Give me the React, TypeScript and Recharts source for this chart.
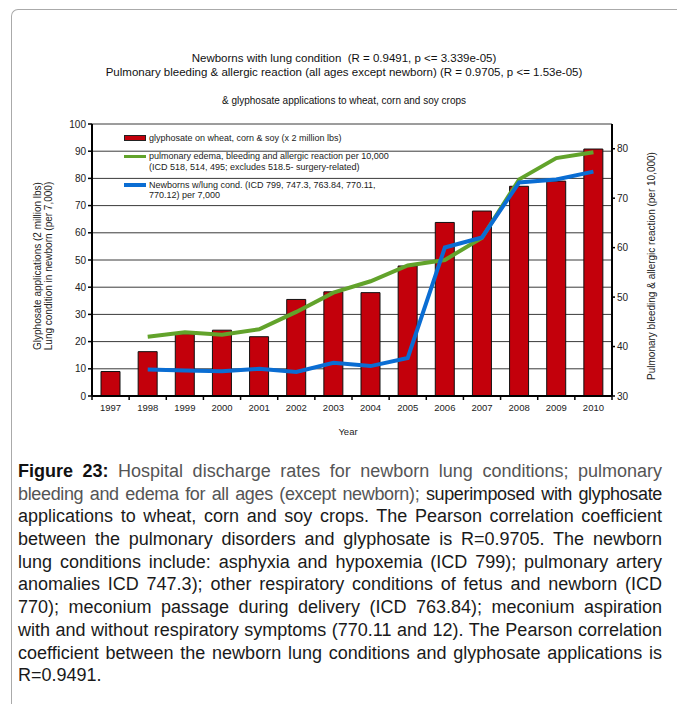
import {
  ComposedChart,
  Bar,
  Line,
  XAxis,
  YAxis,
  CartesianGrid,
  Legend,
} from "recharts";

const years = ["1997", "1998", "1999", "2000", "2001", "2002", "2003", "2004", "2005", "2006", "2007", "2008", "2009", "2010"];
const glyphosate = [9, 16.3, 22.9, 24.2, 21.8, 35.5, 38.3, 38, 47.8, 63.8, 68, 77.1, 79, 90.8];
const pulmonary = [null, 42.0, 42.9, 42.4, 43.5, 47.0, 50.9, 53.2, 56.4, 57.5, 62.0, 73.8, 78.1, 79.3];
const newborn = [null, 9.7, 9.4, 9.1, 10.0, 8.8, 12.2, 11, 14.0, 54.6, 58.3, 78.5, 79.6, 82.5];

const leftTicks = [0, 10, 20, 30, 40, 50, 60, 70, 80, 90, 100];
const rightTicks = [30, 40, 50, 60, 70, 80];

const data = years.map((year, i) => ({
  year,
  glyphosate: glyphosate[i],
  pulmonary: pulmonary[i],
  newborn: newborn[i],
}));

const FONT = '"Liberation Sans", Arial, sans-serif';
const RED = "#c3000b";
const GREEN = "#62a32b";
const BLUE = "#0a6dd3";

function YearTick(props: any) {
  const { x, y, payload, index } = props;
  const half = payload && payload.offset ? payload.offset : 18.57;
  return (
    <g>
      <line x1={x - half} y1={y} x2={x - half} y2={y + 4} stroke="#000" strokeWidth={1.5} />
      {index === years.length - 1 && (
        <line x1={x + half} y1={y} x2={x + half} y2={y + 4} stroke="#000" strokeWidth={1.5} />
      )}
      <text x={x} y={y + 15} textAnchor="middle" fontSize={9.5} fill="#222" fontFamily={FONT}>
        {payload.value}
      </text>
    </g>
  );
}

function LegendBox() {
  const row = { display: "flex", alignItems: "flex-start" } as const;
  const swatch = { width: 22, height: 10.5, marginRight: 3, display: "flex", alignItems: "center" } as const;
  const txt = { lineHeight: "10.5px" };
  return (
    <div style={{ fontFamily: FONT, fontSize: 9, color: "#222", width: 300 }}>
      <div style={row}>
        <div style={swatch}>
          <div style={{ width: 20, height: 4, background: RED, border: "1px solid #222" }} />
        </div>
        <div style={txt}>glyphosate on wheat, corn &amp; soy (x 2 million lbs)</div>
      </div>
      <div style={{ ...row, marginTop: 8.2 }}>
        <div style={swatch}>
          <div style={{ width: 22, height: 3.5, background: GREEN }} />
        </div>
        <div style={txt}>
          pulmonary edema, bleeding and allergic reaction per 10,000
          <br />
          (ICD 518, 514, 495; excludes 518.5- surgery-related)
        </div>
      </div>
      <div style={{ ...row, marginTop: 7.5 }}>
        <div style={swatch}>
          <div style={{ width: 22, height: 3.5, background: BLUE }} />
        </div>
        <div style={txt}>
          Newborns w/lung cond. (ICD 799, 747.3, 763.84, 770.11,
          <br />
          770.12) per 7,000
        </div>
      </div>
    </div>
  );
}

function VText({ cx, cy, text }: { cx: number; cy: number; text: string }) {
  return (
    <div
      style={{
        position: "absolute",
        left: cx - 150,
        top: cy - 6,
        width: 300,
        height: 12,
        lineHeight: "12px",
        textAlign: "center",
        fontSize: 10,
        fontFamily: FONT,
        color: "#222",
        transform: "rotate(-90deg)",
        whiteSpace: "nowrap",
      }}
    >
      {text}
    </div>
  );
}

const captionLines: [string, string, string][] = [
  ["Figure 23:", " Hospital discharge rates for newborn lung conditions; pulmonary", ""],
  ["", "bleeding and edema for all ages (except newborn); ", "superimposed with glyphosate"],
  ["", "", "applications to wheat, corn and soy crops. The Pearson correlation coefficient"],
  ["", "", "between the pulmonary disorders and glyphosate is R=0.9705. The newborn"],
  ["", "", "lung conditions include: asphyxia and hypoxemia (ICD 799); pulmonary artery"],
  ["", "", "anomalies ICD 747.3); other respiratory conditions of fetus and newborn (ICD"],
  ["", "", "770); meconium passage during delivery (ICD 763.84); meconium aspiration"],
  ["", "", "with and without respiratory symptoms (770.11 and 12). The Pearson correlation"],
  ["", "", "coefficient between the newborn lung conditions and glyphosate applications is"],
];

export default function App() {
  return (
    <div style={{ position: "absolute", left: 0, top: 0, width: 677, height: 704, overflow: "hidden", background: "#fff" }}>
      <div
        style={{
          position: "absolute",
          left: 11,
          top: 9,
          width: 720,
          height: 720,
          borderTop: "1.5px solid #aaa",
          borderLeft: "1.5px solid #aaa",
          borderTopLeftRadius: 7,
        }}
      />

      <div style={{ position: "absolute", left: 44, top: 51, width: 600, textAlign: "center", fontFamily: FONT, fontSize: 11.5, lineHeight: "14px", color: "#111" }}>
        Newborns with lung condition&nbsp; (R = 0.9491, p &lt;= 3.339e-05)
        <br />
        Pulmonary bleeding &amp; allergic reaction (all ages except newborn) (R = 0.9705, p &lt;= 1.53e-05)
      </div>
      <div style={{ position: "absolute", left: 44, top: 95, width: 600, textAlign: "center", fontFamily: FONT, fontSize: 10, lineHeight: "12px", color: "#111" }}>
        &amp; glyphosate applications to wheat, corn and soy crops
      </div>

      <div style={{ position: "absolute", left: 0, top: 0 }}>
        <ComposedChart
          width={677}
          height={450}
          data={data}
          margin={{ top: 124, right: 25, bottom: 24, left: 52 }}
          style={{ fontFamily: FONT }}
        >
          <CartesianGrid yAxisId="left" vertical={false} stroke="#3a3a3a" strokeWidth={1} />
          <XAxis
            dataKey="year"
            height={30}
            tickLine={false}
            tickSize={0}
            tickMargin={0}
            axisLine={{ stroke: "#000", strokeWidth: 2 }}
            tick={<YearTick />}
            interval={0}
          />
          <YAxis
            yAxisId="left"
            domain={[0, 100]}
            ticks={leftTicks}
            width={40}
            tickSize={4}
            tickMargin={2}
            axisLine={{ stroke: "#000", strokeWidth: 2 }}
            tickLine={{ stroke: "#000", strokeWidth: 1.5 }}
            tick={{ fontSize: 10, fill: "#222" }}
            interval={0}
          />
          <YAxis
            yAxisId="right"
            orientation="right"
            domain={[30, 85]}
            ticks={rightTicks}
            width={40}
            tickSize={3}
            tickMargin={2}
            axisLine={{ stroke: "#000", strokeWidth: 2 }}
            tickLine={{ stroke: "#000", strokeWidth: 1.5 }}
            tick={{ fontSize: 10, fill: "#222" }}
            interval={0}
          />
          <Legend
            layout="vertical"
            align="center"
            verticalAlign="middle"
            content={<LegendBox />}
            wrapperStyle={{ top: 132.5, left: 124, width: 300 }}
          />
          <Bar
            yAxisId="left"
            dataKey="glyphosate"
            barSize={19}
            fill={RED}
            stroke="#111"
            strokeWidth={1}
            isAnimationActive={false}
          />
          <Line
            yAxisId="right"
            dataKey="pulmonary"
            stroke={GREEN}
            strokeWidth={4}
            dot={false}
            isAnimationActive={false}
          />
          <Line
            yAxisId="left"
            dataKey="newborn"
            stroke={BLUE}
            strokeWidth={4}
            dot={false}
            isAnimationActive={false}
          />
        </ComposedChart>
      </div>

      <VText cx={37.5} cy={266} text="Glyphosate applications (2 million lbs)" />
      <VText cx={48.5} cy={266} text="Lung condition in newborn (per 7,000)" />
      <VText cx={652} cy={266} text="Pulmonary bleeding & allergic reaction (per 10,000)" />
      <div style={{ position: "absolute", left: 298, top: 426, width: 100, textAlign: "center", fontFamily: FONT, fontSize: 9.5, lineHeight: "12px", color: "#222" }}>
        Year
      </div>

      <div style={{ position: "absolute", left: 18, top: 460, width: 644, fontFamily: FONT, fontSize: 18, lineHeight: "22.7px" }}>
        {captionLines.map((l, i) => (
          <div
            key={i}
            style={{
              textAlign: "justify",
              textAlignLast: "justify",
              whiteSpace: "nowrap",
              height: 22.7,
              letterSpacing: i === 1 ? "-0.35px" : "0px",
              wordSpacing: i === 1 ? "-1px" : "0px",
            } as any}
          >
            {l[0] && <b style={{ color: "#111" }}>{l[0]}</b>}
            {l[1] && <span style={{ color: "#555" }}>{l[1]}</span>}
            {l[2] && <span style={{ color: "#1a1a1a" }}>{l[2]}</span>}
          </div>
        ))}
        <div style={{ color: "#1a1a1a" }}>R=0.9491.</div>
      </div>
    </div>
  );
}
